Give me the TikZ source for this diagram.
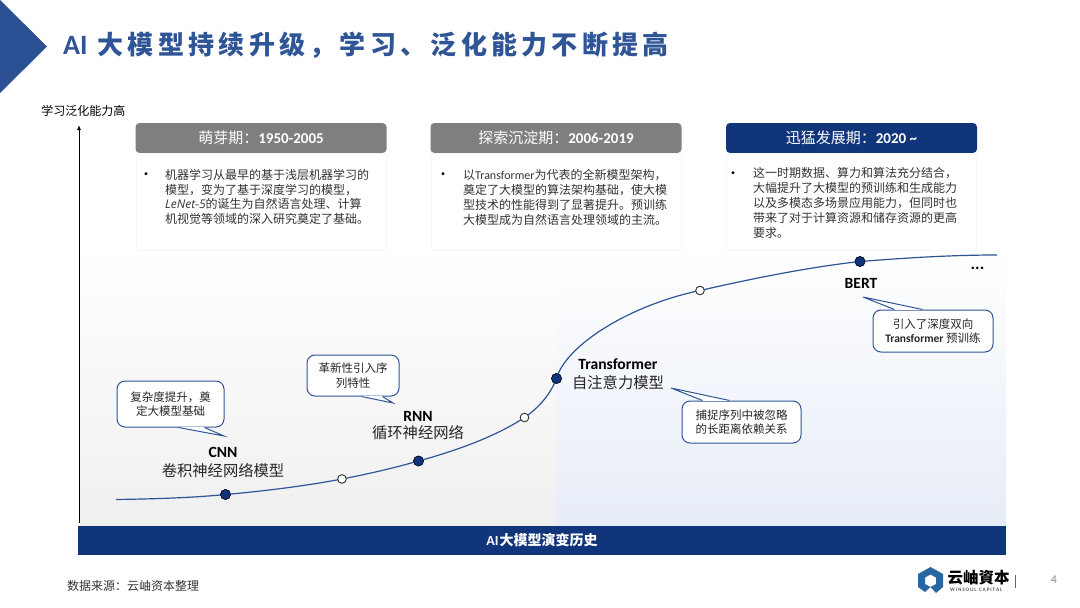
\documentclass[tikz,border=0pt]{standalone}
\usepackage{fontspec}
\setmainfont{Noto Sans CJK SC}
\newfontfamily\latinfont{Carlito}
\newfontfamily\titlefont[LetterSpace=16.5]{Noto Sans CJK SC}
\newfontfamily\handfont{Open Sans}
\usetikzlibrary{positioning,calc,arrows.meta}
\definecolor{navy}{HTML}{10357A}
\definecolor{titleblue}{HTML}{2F5597}
\definecolor{headgrey}{HTML}{7F7F7F}
\definecolor{inkgrey}{HTML}{333333}
\definecolor{paleblue}{HTML}{E6ECF7}
\newcommand{\fwcomma}{\char"FF0C\relax}
\newcommand{\fwcolon}{\char"FF1A\relax}
\tikzset{
	stagehead/.style={rounded corners=4pt, minimum width=251pt, minimum height=30pt, inner sep=0pt, text=white, font=\fontsize{15}{16}\selectfont},
	stagebody/.style={draw=black!3, fill=white, line width=0.8pt, minimum width=250pt, minimum height=97pt, inner sep=0pt},
	stagetext/.style={anchor=north west, align=left, inner sep=0pt, text=inkgrey, font=\fontsize{12}{14.8}\selectfont},
	stagebullet/.style={inner sep=0pt, text=black, font=\fontsize{14}{14}\selectfont},
	notebox/.style={draw=titleblue, fill=white, line width=1pt, rounded corners=8pt, inner sep=0pt, align=center, text=black!85, font=\fontsize{11.5}{14.6}\selectfont},
	notetail/.style={draw=titleblue, line width=1pt, line join=miter},
	eradot/.style={circle, draw=black!70!navy, fill=navy, line width=0.6pt, minimum size=10pt, inner sep=0pt},
	middot/.style={circle, draw=black!80, fill=white, line width=0.8pt, minimum size=8.5pt, inner sep=0pt},
	modelname/.style={inner sep=0pt, text=black, font=\fontsize{15.6}{16}\selectfont\latinfont\bfseries},
	modeltext/.style={inner sep=0pt, text=black!85, font=\fontsize{15.3}{17}\selectfont},
}
\newcommand{\notetailat}[4]{
	\coordinate (tailA) at ($(#1)+(#2,0)$);
	\coordinate (tailB) at ($(#1)+(#3,0)$);
	\fill[white] (tailA) -- (#4) -- (tailB) -- cycle;
	\draw[white, line width=1.6pt] (tailA) -- (tailB);
	\draw[notetail] (tailA) -- (#4) -- (tailB);
}

\begin{document}
\begin{tikzpicture}[x=1pt, y=-1pt]
	\useasboundingbox (0,0) rectangle (1080,608);
	\fill[white] (0,0) rectangle (1080,608);

	% title
	\fill[titleblue!85!navy] (0,0) -- (47,46.5) -- (0,93) -- cycle;
	\node (title) [anchor=west, inner sep=0pt, text=titleblue, font=\fontsize{26}{28}\selectfont\bfseries] at (63,45.5) {{\fontsize{28}{28}\selectfont\latinfont AI}\hspace{10pt}{\titlefont\bfseries 大模型持续升级\fwcomma 学习、泛化能力不断提高}};

	% background
	\shade[top color=white, bottom color=black!6] (80,250) rectangle (556,526);
	\shade[top color=white, bottom color=paleblue] (556,250) rectangle (1006,526);

	% axis
	\coordinate (axisS) at (79,523);
	\coordinate (axisE) at (79,125);
	\draw[-{Latex[length=5pt,width=4pt]}, line width=0.9pt, black] (axisS) -- (axisE);
	\node (axislabel) [inner sep=0pt, text=black, font=\fontsize{12}{14}\selectfont] at (83.5,111) {学习泛化能力高};

	% stages
	\node (headA) [stagehead, fill=headgrey] at (261,138) {萌芽期\fwcolon{\latinfont\bfseries 1950-2005}};
	\node (bodyA) [stagebody, below=0pt of headA] {};
	\node (dotA) [stagebullet] at (146,176) {•};
	\node (textA) [stagetext] at (165,169) {机器学习从最早的基于浅层机器学习的\\模型\fwcomma 变为了基于深度学习的模型\fwcomma\\{\handfont\itshape LeNet-5}的诞生为自然语言处理、计算\\机视觉等领域的深入研究奠定了基础。};

	\node (headB) [stagehead, fill=headgrey] at (556,138) {探索沉淀期\fwcolon{\latinfont\bfseries 2006-2019}};
	\node (bodyB) [stagebody, below=0pt of headB] {};
	\node (dotB) [stagebullet] at (443,176) {•};
	\node (textB) [stagetext] at (463,169.5) {以{\latinfont Transformer}为代表的全新模型架构\fwcomma\\奠定了大模型的算法架构基础\fwcomma 使大模\\型技术的性能得到了显著提升。预训练\\大模型成为自然语言处理领域的主流。};

	\node (headC) [stagehead, fill=navy] at (851.5,138) {迅猛发展期\fwcolon{\latinfont\bfseries 2020 \textasciitilde}};
	\node (bodyC) [stagebody, below=0pt of headC] {};
	\node (dotC) [stagebullet] at (733,175) {•};
	\node (textC) [stagetext] at (753,167.5) {这一时期数据、算力和算法充分结合\fwcomma\\大幅提升了大模型的预训练和生成能力\\以及多模态多场景应用能力\fwcomma 但同时也\\带来了对于计算资源和储存资源的更高\\要求。};

	% curve
	\coordinate (curveS) at (116,499.5);
	\coordinate (curveE) at (997,255);
	\node (cnn) [eradot] at (225.5,494.5) {};
	\node (midA) [middot] at (342,479) {};
	\node (rnn) [eradot] at (418.5,461) {};
	\node (midB) [middot] at (524.5,417.5) {};
	\node (trans) [eradot] at (556.5,378.5) {};
	\node (midC) [middot] at (700,290.5) {};
	\node (bert) [eradot] at (860,261.5) {};
	\draw[titleblue, line width=1.2pt] (curveS)
		.. controls (150,499) and (190,498) .. (cnn.center)
		.. controls (265,491) and (305,486) .. (midA.center)
		.. controls (368,474) and (394,468) .. (rnn.center)
		.. controls (455,451) and (495,437) .. (midB.center)
		.. controls (540,407) and (551,393) .. (trans.center)
		.. controls (566,345) and (630,305) .. (midC.center)
		.. controls (755,278) and (810,267) .. (bert.center)
		.. controls (905,258) and (950,255) .. (curveE);
	\node at (cnn) [eradot] {};
	\node at (midA) [middot] {};
	\node at (rnn) [eradot] {};
	\node at (midB) [middot] {};
	\node at (trans) [eradot] {};
	\node at (midC) [middot] {};
	\node at (bert) [eradot] {};

	% model labels
	\node (cnnname) [modelname] at (223,452.5) {CNN};
	\node (cnntext) [modeltext, below=18.5pt of cnnname.center, anchor=center] {卷积神经网络模型};
	\node (rnnname) [modelname] at (418,416) {RNN};
	\node (rnntext) [modeltext, below=17pt of rnnname.center, anchor=center] {循环神经网络};
	\node (transname) [modelname] at (618,364.5) {Transformer};
	\node (transtext) [modeltext, below=18pt of transname.center, anchor=center] {自注意力模型};
	\node (bertname) [modelname] at (861,283) {BERT};
	\node (more) [inner sep=0pt, text=black, font=\fontsize{17}{17}\selectfont\latinfont\bfseries] at (977.5,268.5) {...};

	% notes
	\node (cnnnote) [notebox, minimum width=107pt, minimum height=46pt] at (170.5,404) {复杂度提升\fwcomma 奠\\定大模型基础};
	\coordinate (cnntip) at (224,436);
	\notetailat{cnnnote.south west}{62}{88}{cnntip}
	\node (rnnnote) [notebox, minimum width=92pt, minimum height=41pt] at (353,375.5) {革新性引入序\\列特性};
	\coordinate (rnntip) at (393,403);
	\notetailat{rnnnote.south west}{55}{76}{rnntip}
	\node (transnote) [notebox, minimum width=119pt, minimum height=42pt] at (741.5,422) {捕捉序列中被忽略\\的长距离依赖关系};
	\coordinate (transtip) at (671,388);
	\notetailat{transnote.north west}{21}{48}{transtip}
	\node (bertnote) [notebox, minimum width=120pt, minimum height=42pt] at (933,331) {引入了深度双向\\{\latinfont\bfseries Transformer} 预训练};
	\coordinate (berttip) at (863,297);
	\notetailat{bertnote.north west}{22}{50}{berttip}

	% bottom bar
	\node (bar) [fill=navy, minimum width=928pt, minimum height=29pt, inner sep=0pt, text=white, font=\fontsize{14}{16}\selectfont\bfseries] at (542,540.5) {{\latinfont AI}\hspace{1pt}大模型演变历史};
	\node (source) [anchor=west, inner sep=0pt, text=inkgrey, font=\fontsize{12}{14}\selectfont] at (67,586) {数据来源\fwcolon 云岫资本整理};

	% logo
	\fill[titleblue!90!cyan] (930.5,567) -- (943,574) -- (943,587) -- (936,593) -- (930.5,587) -- (936,584) -- (936,577.5) -- (930.5,574.5) -- (925,577.5) -- (925,584) -- (930.5,587) -- (925,592) -- (918,587) -- (918,574) -- cycle;
	\node (logoname) [anchor=west, inner sep=0pt, text=black, font=\fontsize{15.5}{17}\selectfont\bfseries] at (947.5,578) {云岫資本};
	\node (logosub) [anchor=west, inner sep=0pt, text=black!65, font=\fontsize{5.2}{6}\selectfont\latinfont\bfseries] at (950,590) {W\,I\,N\,S\,O\,U\,L\; C\,A\,P\,I\,T\,A\,L};
	\draw[black!60, line width=1pt] (1015,575) -- (1015,588);
	\node (pagenum) [inner sep=0pt, text=black!45, font=\fontsize{12}{14}\selectfont\latinfont] at (1054,580) {4};
\end{tikzpicture}
\end{document}
